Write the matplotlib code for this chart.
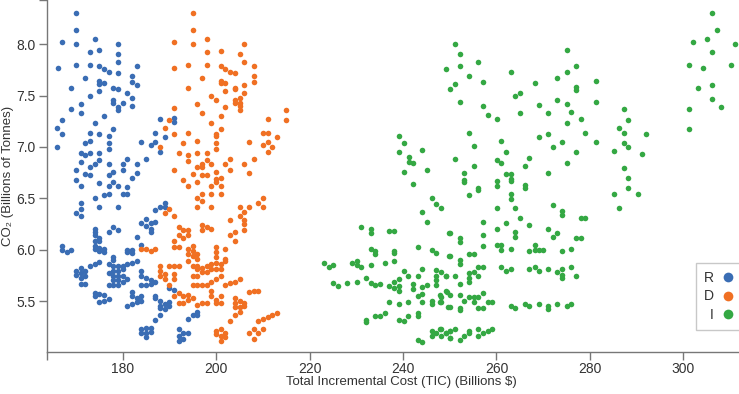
import matplotlib.pyplot as plt
from matplotlib.lines import Line2D
import numpy as np

plt.rcParams['font.family'] = ['Liberation Sans', 'DejaVu Sans']

# (total incremental cost in $bn, CO2 in bn tonnes) per scenario
r_points = [
    (170.0, 8.30), (170.0, 8.14), (167.1, 8.02), (170.0, 8.00), (174.1, 8.05), (173.0, 7.92),
    (175.0, 7.94), (179.0, 8.00), (179.0, 7.90), (179.0, 7.83), (166.1, 7.77), (170.0, 7.80),
    (173.0, 7.80), (175.0, 7.79), (176.0, 7.76), (177.0, 7.73), (179.0, 7.72), (183.0, 7.79),
    (172.0, 7.67), (175.0, 7.64), (175.0, 7.61), (176.0, 7.62), (182.0, 7.69), (182.0, 7.63),
    (183.0, 7.60), (169.0, 7.57), (178.0, 7.57), (179.0, 7.56), (175.0, 7.54), (181.0, 7.52),
    (173.0, 7.50), (182.0, 7.48), (178.0, 7.46), (178.0, 7.43), (180.0, 7.43), (179.0, 7.39),
    (179.0, 7.36), (171.0, 7.42), (169.0, 7.37), (171.0, 7.33), (182.0, 7.40), (176.0, 7.30),
    (167.0, 7.26), (166.0, 7.18), (167.0, 7.13), (174.0, 7.23), (173.0, 7.14), (175.0, 7.13),
    (178.0, 7.17), (177.0, 7.11), (166.0, 7.00), (172.0, 7.04), (173.0, 7.06), (177.0, 7.04),
    (177.0, 6.98), (184.0, 7.05), (186.0, 7.02), (187.0, 7.05), (187.0, 7.14), (188.0, 7.27),
    (189.0, 7.10), (188.0, 6.95), (191.0, 7.28), (191.0, 7.24), (171.0, 6.94), (173.0, 6.94),
    (172.0, 6.92), (175.0, 6.94), (175.0, 6.87), (171.0, 6.85), (181.0, 6.88), (185.0, 6.88),
    (177.0, 6.83), (180.0, 6.83), (183.0, 6.83), (174.0, 6.83), (173.0, 6.80), (170.0, 6.78),
    (178.0, 6.76), (180.0, 6.78), (177.0, 6.73), (172.0, 6.74), (173.0, 6.73), (183.0, 6.75),
    (182.0, 6.70), (170.0, 6.68), (171.0, 6.62), (175.0, 6.65), (177.0, 6.62), (178.0, 6.66),
    (179.0, 6.62), (180.0, 6.54), (181.0, 6.54), (181.0, 6.61), (176.0, 6.53), (177.0, 6.54),
    (174.0, 6.50), (175.0, 6.42), (179.0, 6.42), (171.0, 6.45), (171.0, 6.40), (170.0, 6.36),
    (171.0, 6.33), (174.0, 6.20), (174.0, 6.17), (174.0, 6.14), (175.0, 6.11), (174.0, 6.08),
    (175.0, 6.08), (174.0, 6.04), (175.0, 6.02), (176.0, 6.01), (175.0, 5.99), (174.0, 6.01),
    (176.0, 5.98), (178.0, 6.22), (177.0, 6.17), (179.0, 6.19), (167.0, 6.04), (167.0, 6.00),
    (168.0, 5.98), (169.0, 6.00), (181.0, 6.00), (181.0, 5.98), (182.0, 6.00), (182.0, 5.97),
    (183.0, 6.12), (184.0, 6.26), (185.0, 6.30), (186.0, 6.26), (187.0, 6.27), (185.0, 6.23),
    (186.0, 6.20), (186.0, 6.17), (188.0, 6.42), (189.0, 6.45), (189.0, 6.42), (187.0, 6.39),
    (184.0, 6.05), (178.0, 5.93), (178.0, 5.90), (170.0, 5.79), (171.0, 5.82), (170.0, 5.75),
    (171.0, 5.77), (171.0, 5.72), (171.0, 5.67), (172.0, 5.67), (172.0, 5.79), (172.0, 5.74),
    (173.0, 5.84), (174.0, 5.86), (175.0, 5.88), (177.0, 5.86), (178.0, 5.84), (179.0, 5.84),
    (180.0, 5.84), (181.0, 5.86), (182.0, 5.87), (183.0, 5.89), (178.0, 5.79), (179.0, 5.79),
    (180.0, 5.81), (178.0, 5.74), (179.0, 5.74), (180.0, 5.74), (177.0, 5.66), (178.0, 5.66),
    (179.0, 5.66), (180.0, 5.69), (181.0, 5.71), (179.0, 5.70), (177.0, 5.77), (178.0, 5.70),
    (174.0, 5.58), (174.0, 5.55), (175.0, 5.57), (176.0, 5.56), (177.0, 5.52), (175.0, 5.49),
    (176.0, 5.50), (182.0, 5.59), (182.0, 5.55), (183.0, 5.53), (181.0, 5.45), (182.0, 5.47),
    (183.0, 5.49), (184.0, 5.50), (184.0, 5.55), (184.0, 5.74), (185.0, 5.72), (184.0, 5.79),
    (185.0, 5.66), (186.0, 5.67), (187.0, 5.69), (187.0, 5.53), (188.0, 5.50), (188.0, 5.45),
    (189.0, 5.47), (189.0, 5.42), (188.0, 5.36), (187.0, 5.32), (190.0, 5.45), (190.0, 5.49),
    (184.0, 5.23), (184.0, 5.19), (185.0, 5.24), (185.0, 5.19), (185.0, 5.15), (186.0, 5.24),
    (186.0, 5.20), (192.0, 5.23), (193.0, 5.19), (192.0, 5.16), (193.0, 5.13), (194.0, 5.19),
    (192.0, 5.11), (196.0, 5.39), (195.0, 5.36), (194.0, 5.33), (196.0, 5.36), (190.0, 5.63),
    (191.0, 5.61), (184.0, 5.66), (186.0, 5.70), (188.0, 5.43), (187.0, 5.55),
]

d_points = [
    (195.0, 8.30), (195.0, 8.14), (195.0, 8.00), (191.0, 8.02), (198.0, 8.05), (201.0, 7.93),
    (198.0, 7.92), (206.0, 8.00), (205.0, 7.90), (206.0, 7.83), (208.0, 7.79), (194.0, 7.80),
    (198.0, 7.80), (201.0, 7.79), (202.0, 7.76), (203.0, 7.73), (204.0, 7.72), (191.0, 7.77),
    (197.0, 7.67), (201.0, 7.64), (201.0, 7.62), (202.0, 7.62), (208.0, 7.69), (208.0, 7.63),
    (206.0, 7.60), (204.0, 7.57), (204.0, 7.56), (202.0, 7.54), (206.0, 7.52), (194.0, 7.57),
    (199.0, 7.50), (200.0, 7.46), (204.0, 7.46), (205.0, 7.48), (204.0, 7.43), (205.0, 7.43),
    (205.0, 7.40), (205.0, 7.36), (196.0, 7.42), (202.0, 7.39), (197.0, 7.33), (201.0, 7.30),
    (191.0, 7.38), (199.0, 7.23), (201.0, 7.17), (190.0, 7.26), (189.0, 7.18), (191.0, 7.13),
    (194.0, 7.14), (200.0, 7.13), (200.0, 7.11), (193.0, 7.04), (196.0, 7.06), (200.0, 7.04),
    (200.0, 6.98), (188.0, 7.00), (192.0, 6.94), (194.0, 6.92), (194.0, 6.86), (196.0, 6.94),
    (198.0, 6.94), (198.0, 6.87), (197.0, 6.83), (197.0, 6.80), (196.0, 6.80), (199.0, 6.83),
    (200.0, 6.76), (201.0, 6.70), (195.0, 6.74), (197.0, 6.73), (198.0, 6.73), (193.0, 6.68),
    (191.0, 6.78), (203.0, 6.88), (202.0, 6.83), (203.0, 6.78), (206.0, 6.83), (207.0, 6.75),
    (208.0, 6.88), (207.0, 7.05), (210.0, 7.14), (211.0, 7.14), (211.0, 7.27), (213.0, 7.10),
    (210.0, 7.02), (211.0, 7.05), (212.0, 7.00), (211.0, 6.95), (215.0, 7.36), (215.0, 7.26),
    (200.0, 6.66), (194.0, 6.62), (196.0, 6.66), (199.0, 6.62), (201.0, 6.62), (200.0, 6.69),
    (197.0, 6.54), (199.0, 6.54), (201.0, 6.54), (196.0, 6.50), (197.0, 6.47), (196.0, 6.42),
    (199.0, 6.42), (205.0, 6.42), (206.0, 6.37), (207.0, 6.42), (205.0, 6.33), (206.0, 6.29),
    (206.0, 6.25), (206.0, 6.19), (204.0, 6.17), (203.0, 6.14), (203.0, 6.29), (204.0, 6.08),
    (209.0, 6.45), (210.0, 6.50), (210.0, 6.42), (189.0, 6.36), (190.0, 6.40), (191.0, 6.33),
    (192.0, 6.22), (193.0, 6.19), (194.0, 6.19), (192.0, 6.14), (193.0, 6.11), (194.0, 6.14),
    (191.0, 6.08), (192.0, 6.03), (191.0, 6.03), (197.0, 6.24), (197.0, 6.19), (198.0, 6.22),
    (199.0, 6.20), (200.0, 6.03), (200.0, 5.98), (200.0, 5.93), (202.0, 6.01), (202.0, 5.91),
    (195.0, 6.04), (195.0, 5.99), (194.0, 6.01), (194.0, 5.96), (195.0, 5.94), (196.0, 5.96),
    (196.0, 5.91), (194.0, 5.89), (195.0, 5.84), (196.0, 5.81), (184.0, 6.01), (185.0, 6.01),
    (186.0, 5.99), (187.0, 6.01), (188.0, 5.84), (188.0, 5.79), (188.0, 5.74), (189.0, 5.76),
    (190.0, 5.84), (191.0, 5.84), (192.0, 5.84), (189.0, 5.71), (190.0, 5.66), (191.0, 5.71),
    (191.0, 5.76), (196.0, 5.84), (197.0, 5.82), (198.0, 5.84), (199.0, 5.86), (200.0, 5.87),
    (201.0, 5.86), (202.0, 5.89), (195.0, 5.74), (196.0, 5.74), (197.0, 5.78), (198.0, 5.78),
    (199.0, 5.81), (200.0, 5.81), (201.0, 5.81), (195.0, 5.66), (196.0, 5.66), (197.0, 5.66),
    (198.0, 5.66), (199.0, 5.69), (200.0, 5.71), (201.0, 5.74), (202.0, 5.66), (203.0, 5.68),
    (204.0, 5.69), (205.0, 5.71), (191.0, 5.55), (192.0, 5.58), (193.0, 5.55), (194.0, 5.56),
    (192.0, 5.48), (193.0, 5.48), (194.0, 5.51), (196.0, 5.46), (197.0, 5.48), (198.0, 5.48),
    (195.0, 5.53), (199.0, 5.60), (199.0, 5.55), (200.0, 5.51), (201.0, 5.55), (201.0, 5.48),
    (200.0, 5.48), (204.0, 5.53), (204.0, 5.48), (205.0, 5.50), (206.0, 5.48), (204.0, 5.44),
    (205.0, 5.44), (206.0, 5.45), (205.0, 5.39), (204.0, 5.36), (203.0, 5.31), (207.0, 5.59),
    (208.0, 5.60), (209.0, 5.60), (210.0, 5.33), (211.0, 5.34), (212.0, 5.36), (213.0, 5.38),
    (209.0, 5.31), (208.0, 5.23), (209.0, 5.19), (210.0, 5.23), (208.0, 5.13), (207.0, 5.19),
    (200.0, 5.21), (201.0, 5.23), (202.0, 5.19), (201.0, 5.16), (202.0, 5.15), (201.0, 5.11),
    (200.0, 5.18),
]

i_points = [
    (242.1, 6.64), (246.1, 6.50), (247.1, 6.44), (248.1, 6.41), (244.1, 6.37), (245.1, 6.27),
    (231.1, 6.22), (233.1, 6.20), (233.1, 6.16), (237.1, 6.18), (238.1, 6.18), (249.9, 6.16),
    (233.1, 6.01), (234.1, 5.99), (234.1, 5.96), (238.1, 5.99), (238.1, 5.97), (243.1, 6.03),
    (246.1, 6.00), (247.1, 5.97), (249.9, 5.94), (238.1, 5.89), (223.1, 5.87), (224.1, 5.83),
    (225.1, 5.85), (229.1, 5.87), (230.1, 5.89), (230.1, 5.85), (231.1, 5.83), (233.1, 5.85),
    (236.1, 5.87), (244.1, 5.81), (240.1, 5.79), (241.1, 5.74), (243.1, 5.74), (247.1, 5.80),
    (248.1, 5.78), (249.1, 5.74), (247.1, 5.74), (247.1, 5.70), (247.1, 5.66), (225.1, 5.68),
    (226.1, 5.65), (228.1, 5.68), (230.1, 5.69), (232.1, 5.72), (233.1, 5.68), (234.1, 5.66),
    (235.1, 5.67), (237.1, 5.65), (238.1, 5.69), (239.1, 5.71), (238.1, 5.63), (239.1, 5.65),
    (239.1, 5.60), (242.1, 5.67), (242.1, 5.62), (243.1, 5.55), (244.1, 5.57), (244.1, 5.64),
    (245.1, 5.66), (249.3, 5.59), (248.1, 5.54), (248.1, 5.49), (249.7, 5.44), (237.1, 5.49),
    (239.1, 5.47), (241.1, 5.49), (244.1, 5.49), (246.1, 5.50), (246.1, 5.47), (234.1, 5.35),
    (235.1, 5.35), (236.1, 5.38), (232.1, 5.32), (232.1, 5.30), (239.1, 5.32), (240.1, 5.31),
    (241.1, 5.35), (243.1, 5.38), (243.1, 5.35), (246.1, 5.21), (247.1, 5.19), (248.1, 5.23),
    (249.1, 5.19), (246.1, 5.16), (248.1, 5.16), (250.0, 5.21), (250.0, 5.14), (243.1, 5.12),
    (244.1, 5.10),
    (239.2, 7.11), (240.2, 7.04), (239.2, 6.95), (241.2, 6.90), (241.2, 6.85), (242.2, 6.84),
    (244.1, 6.97), (240.2, 6.76), (245.1, 6.78),
    (251.1, 8.00), (252.1, 7.90), (252.1, 7.79), (249.1, 7.76), (256.1, 7.83), (254.1, 7.69),
    (251.1, 7.61), (250.1, 7.56), (257.1, 7.63), (263.1, 7.73), (264.0, 7.50), (265.0, 7.52),
    (268.2, 7.62), (275.0, 7.94), (277.0, 7.79), (275.0, 7.73), (273.0, 7.67), (277.0, 7.58),
    (277.0, 7.55), (252.1, 7.44), (257.1, 7.40), (258.1, 7.31), (260.1, 7.27), (265.0, 7.33),
    (269.0, 7.41), (271.0, 7.33), (273.0, 7.46), (275.0, 7.42), (276.0, 7.34), (278.0, 7.27),
    (275.0, 7.23), (279.0, 7.14), (254.1, 7.14), (255.1, 7.01), (251.1, 6.88), (261.0, 7.06),
    (262.1, 6.95), (260.1, 6.87), (261.0, 6.84), (269.0, 7.10), (271.0, 7.13), (272.0, 7.00),
    (274.0, 7.05), (277.0, 6.95), (275.0, 6.84), (267.0, 6.89), (266.0, 6.81), (271.0, 6.75),
    (262.1, 6.74), (263.1, 6.74), (263.1, 6.69), (260.1, 6.67), (260.1, 6.62), (266.0, 6.63),
    (253.1, 6.75), (253.1, 6.68), (255.1, 6.81), (256.1, 6.60),
    (253.1, 6.66), (256.1, 6.58), (254.1, 6.53), (263.1, 6.67), (266.0, 6.60),
    (263.1, 6.54), (263.1, 6.49), (260.1, 6.41), (264.0, 6.41), (265.0, 6.31), (267.0, 6.24),
    (262.1, 6.26), (272.0, 6.43), (274.0, 6.38), (274.0, 6.34), (278.0, 6.31), (279.0, 6.31),
    (257.1, 6.27), (257.1, 6.14), (257.1, 6.04), (250.1, 6.16), (252.1, 6.11), (252.1, 6.07),
    (250.1, 5.94), (252.1, 5.90), (252.1, 5.86), (260.1, 6.20), (264.0, 6.17), (264.0, 6.12),
    (260.1, 6.05), (261.0, 6.05), (261.0, 6.00), (263.1, 6.01), (271.0, 6.20), (273.0, 6.16),
    (272.0, 6.12), (277.0, 6.11), (278.0, 6.11), (267.0, 5.99), (268.2, 6.05), (268.2, 6.00),
    (269.0, 6.00), (270.0, 6.00), (274.0, 5.99), (276.0, 6.01), (254.1, 5.96), (255.1, 5.96),
    (256.1, 5.83), (257.1, 5.83), (254.1, 5.77), (255.1, 5.78), (256.1, 5.74), (254.1, 5.72),
    (254.1, 5.69), (261.0, 5.83), (262.1, 5.79), (263.1, 5.81), (267.0, 5.81), (268.2, 5.83),
    (269.0, 5.79), (271.0, 5.81), (273.0, 5.78), (274.0, 5.81), (274.0, 5.75), (274.0, 5.72),
    (276.0, 5.83), (277.0, 5.74), (249.1, 5.74), (251.1, 5.74), (252.1, 5.67), (249.1, 5.60),
    (250.1, 5.56), (247.9, 5.56), (247.9, 5.49), (252.1, 5.56), (252.1, 5.43), (252.1, 5.41),
    (250.1, 5.44), (253.1, 5.50), (254.1, 5.54), (255.1, 5.54), (255.1, 5.49), (256.1, 5.54),
    (257.1, 5.58), (256.1, 5.43), (257.1, 5.43), (258.1, 5.49), (259.1, 5.49), (263.1, 5.45),
    (264.0, 5.43), (266.0, 5.47), (267.0, 5.45), (269.0, 5.47), (271.0, 5.45), (271.0, 5.42),
    (273.0, 5.47), (275.0, 5.45), (276.0, 5.47), (247.9, 5.23), (249.1, 5.19), (250.1, 5.21),
    (251.1, 5.23), (250.1, 5.14), (252.1, 5.12), (253.1, 5.16), (254.1, 5.21), (254.1, 5.19),
    (256.1, 5.23), (257.1, 5.19), (258.1, 5.21), (259.1, 5.23), (256.1, 5.16),
    (281.2, 7.64), (281.2, 7.44), (281.2, 7.05), (287.2, 7.37), (288.2, 7.26), (286.2, 7.18),
    (287.2, 7.14), (292.1, 7.13), (287.2, 7.04), (288.2, 7.00), (285.2, 6.96), (291.2, 6.93),
    (287.2, 6.79), (288.2, 6.70), (288.2, 6.60), (285.2, 6.54), (290.2, 6.54), (286.2, 6.41),
    (306.1, 8.30), (307.1, 8.14), (305.1, 8.05), (302.1, 8.02), (311.1, 8.00), (306.1, 7.92),
    (301.1, 7.80), (304.1, 7.77), (310.1, 7.80), (306.1, 7.60), (303.1, 7.57), (306.1, 7.47),
    (308.1, 7.39), (301.1, 7.37), (301.1, 7.17),
]

parties = ['R', 'D', 'I']
colors = ['#3a6db4', '#f07023', '#34a843']
series = [r_points, d_points, i_points]

W, H = 739, 394
fig = plt.figure(figsize=(W / 100, H / 100), dpi=100)
ax = fig.add_axes([47 / W, 42 / H, 1 - 47 / W, 352 / H])

for pts, c in zip(series, colors):
    arr = np.array(pts)
    ax.scatter(arr[:, 0], arr[:, 1], s=16, color=c, linewidths=0)

x0, x1 = 163.8, 311.9
y0, y1 = 5.004, 8.43
ax.set_xlim(x0, x1)
ax.set_ylim(y0, y1)

# outer ticks at the axis ends, like a d3 axis
ax.set_xticks([x0, 180, 200, 220, 240, 260, 280, 300])
ax.set_xticklabels(['', '180', '200', '220', '240', '260', '280', '300'])
ax.set_yticks([5.5, 6.0, 6.5, 7.0, 7.5, 8.0, y1])
ax.set_yticklabels(['5.5', '6.0', '6.5', '7.0', '7.5', '8.0', ''])

for side in ['top', 'right']:
    ax.spines[side].set_visible(False)
for side in ['left', 'bottom']:
    ax.spines[side].set_color('#777777')
    ax.spines[side].set_linewidth(1.0)
ax.tick_params(direction='out', length=6, width=1.0, color='#777777',
               labelcolor='#333333', labelsize=10)
ax.tick_params(axis='x', pad=1)
ax.tick_params(axis='y', pad=2)

ax.set_xlabel('Total Incremental Cost (TIC) (Billions $)', fontsize=9.5, color='#333333')
ax.xaxis.set_label_coords(0.512, -0.069)
ax.set_ylabel('CO₂ (Billions of Tonnes)', fontsize=9.5, color='#333333')
ax.yaxis.set_label_coords(-0.048, 0.5)

handles = [Line2D([], [], marker='o', linestyle='none', markersize=7,
                  markerfacecolor=c, markeredgewidth=0) for c in colors]
leg = ax.legend(handles, parties, loc='upper right', bbox_to_anchor=(1.003, 0.253),
                markerfirst=False, frameon=True, fancybox=False, fontsize=10,
                handlelength=0.8, handletextpad=0.6, labelspacing=0.35,
                borderpad=0.55, borderaxespad=0)
leg.get_frame().set_edgecolor('#bbbbbb')
leg.get_frame().set_linewidth(1.0)
for t in leg.get_texts():
    t.set_color('#333333')

fig.savefig('out.png', dpi=100)
